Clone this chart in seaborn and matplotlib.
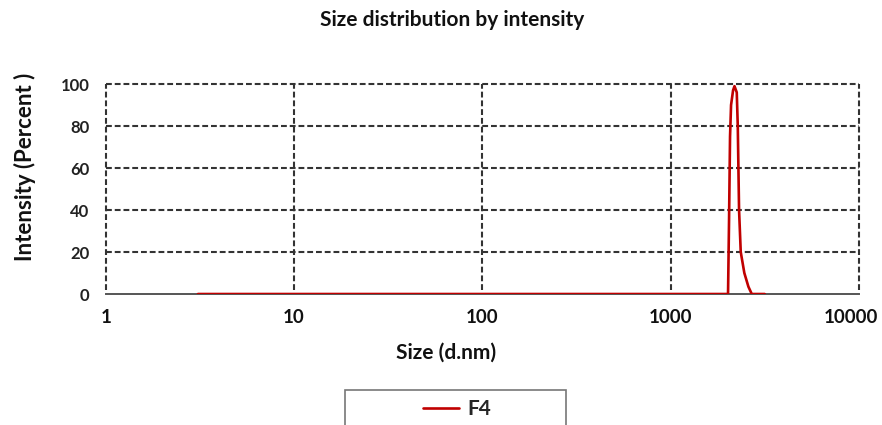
import numpy as np
import pandas as pd
import matplotlib
matplotlib.use("Agg")
import matplotlib.pyplot as plt
from matplotlib.patches import Rectangle
from matplotlib.transforms import ScaledTranslation
import seaborn as sns

# Data
size_nm = [3.09, 10, 100, 1000, 2017, 2042, 2067, 2093, 2145, 2183, 2244, 2272,
           2290, 2308, 2356, 2462, 2587, 2696, 3160]
intensity = [0, 0, 0, 0, 0, 35, 75, 90, 97, 99, 96, 80,
             60, 40, 20, 10, 3.5, 0, 0]
x_ticks = [1, 10, 100, 1000, 10000]
x_tick_labels = ["1", "10", "100", "1000", "10000"]
y_ticks = [0, 20, 40, 60, 80, 100]
series_name = "F4"

df = pd.DataFrame({"Size": size_nm, "Intensity": intensity, "Sample": series_name})

sns.set_style("white")
plt.rcParams["font.family"] = ["Lato", "DejaVu Sans"]
plt.rcParams["font.weight"] = "bold"

fig = plt.figure(figsize=(8.82, 4.25), dpi=100)
ax = fig.add_axes([0.1198, 0.3082, 0.8541, 0.4941])

grid_kw = dict(color="#333333", lw=1.5, ls=(0, (2.8, 1.4)), clip_on=False, zorder=1)
for yv in y_ticks[1:]:
    ax.axhline(yv, **grid_kw)
for xv in x_ticks:
    ax.axvline(xv, ymin=0.02, ymax=1, **grid_kw)

sns.lineplot(data=df, x="Size", y="Intensity", hue="Sample", palette=["#c00000"],
             lw=1.9, ax=ax, zorder=3, legend=False)

ax.set_xscale("log")
ax.set_xlim(1, 10000)
ax.set_ylim(0, 100)
ax.set_xticks(x_ticks)
ax.set_xticklabels(x_tick_labels)
ax.minorticks_off()
ax.set_yticks(y_ticks)
ax.set_xlabel("")
ax.set_ylabel("")

for s in ["top", "right", "left"]:
    ax.spines[s].set_visible(False)
ax.spines["bottom"].set_color("#555555")
ax.spines["bottom"].set_linewidth(1.4)
ax.spines["bottom"].set_zorder(2)

ax.tick_params(axis="x", direction="inout", length=9, width=1.4, color="#444444",
               labelsize=13.5, pad=6, labelcolor="#111111")
ax.tick_params(axis="y", direction="inout", length=5, width=1.2, color="#444444",
               labelsize=12, pad=9, labelcolor="#222222")
for lab in ax.get_xticklabels() + ax.get_yticklabels():
    lab.set_fontweight("bold")
# last label sits a bit left of its tick, as in the reference
last = ax.get_xticklabels()[-1]
last.set_transform(last.get_transform() + ScaledTranslation(-8 / 100, 0, fig.dpi_scale_trans))

fig.text(446 / 882, 1 - 353 / 425, "Size (d.nm)", ha="center", va="center",
         fontsize=15, fontweight="bold", color="#111111")
fig.text(25 / 882, 1 - 167 / 425, "Intensity (Percent )", ha="center", va="center",
         rotation=90, fontsize=16, fontweight="bold", color="#111111")
fig.text(452 / 882, 1 - 20 / 425, "Size distribution by intensity", ha="center",
         va="center", fontsize=15, fontweight="bold", color="#111111")

# legend box below the plot
fig.patches.append(Rectangle((345 / 882, -0.05), 221 / 882, 35 / 425 + 0.05,
                             transform=fig.transFigure, fill=False,
                             edgecolor="#777777", lw=1.2))
handle = plt.Line2D([], [], color="#c00000", lw=1.9)
fig.legend([handle], [series_name], loc="center", bbox_to_anchor=(457 / 882, 1 - 409 / 425),
           frameon=False, handlelength=1.75, handletextpad=0.4,
           prop={"weight": "bold", "size": 15})

fig.savefig("out.png", dpi=100)
